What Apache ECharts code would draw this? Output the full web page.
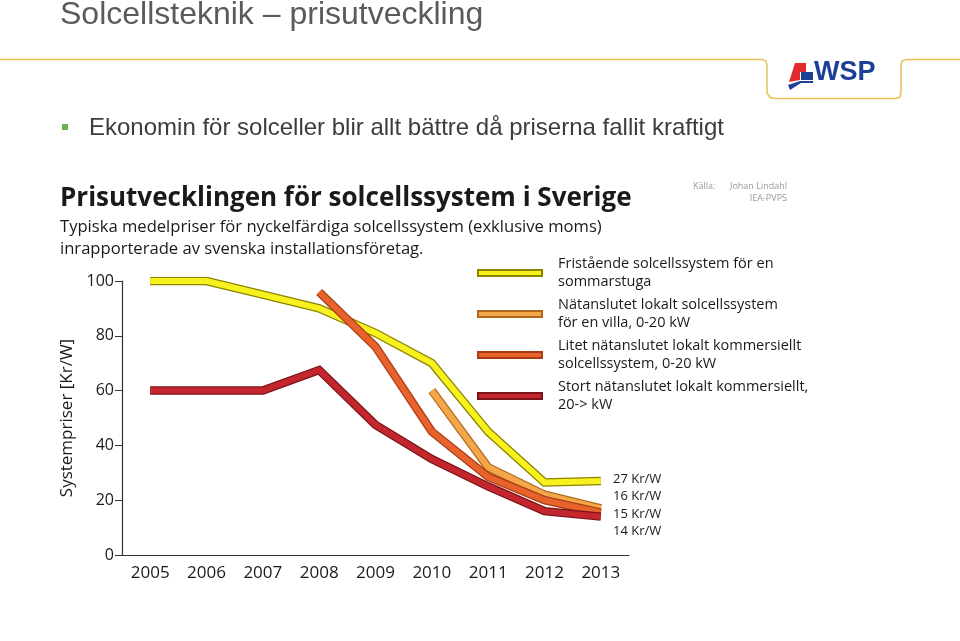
<!DOCTYPE html>
<html>
<head>
<meta charset="utf-8">
<script src="https://cdn.jsdelivr.net/npm/echarts@6/dist/echarts.min.js"></script>
<style>
html,body{margin:0;padding:0;background:#fff;}
#c{width:960px;height:641px;}
</style>
</head>
<body>
<div id="c"></div>
<script>
var years = ['2005','2006','2007','2008','2009','2010','2011','2012','2013'];
var yTicks = [0, 20, 40, 60, 80, 100];
var seriesNames = [
  'Fristående solcellssystem för en\nsommarstuga',
  'Nätanslutet lokalt solcellssystem\nför en villa, 0-20 kW',
  'Litet nätanslutet lokalt kommersiellt\nsolcellssystem, 0-20 kW',
  'Stort nätanslutet lokalt kommersiellt,\n20-> kW'
];
var sommarstuga = [100, 100, 95, 90, 81, 70, 45, 26.5, 27];
var villa       = [null, null, null, null, null, 60, 32, 22, 17];
var litet       = [null, null, null, 96, 76, 45, 28.5, 20, 15.5];
var stort       = [60, 60, 60, 67.5, 47.5, 35, 25, 16, 14];
var endLabels = ['27 Kr/W', '16 Kr/W', '15 Kr/W', '14 Kr/W'];

var fills    = ['#f7f21f', '#f4a748', '#e8622c', '#c4262e'];
var outlines = ['#8c8300', '#b06a20', '#a83c15', '#7a1418'];
var values   = [sommarstuga, villa, litet, stort];
var drawOrder = [0, 1, 2, 3];

var chart = echarts.init(document.getElementById('c'), null, {renderer: 'canvas'});
var font = "'Open Sans', 'Noto Sans', sans-serif";

var series = [];
drawOrder.forEach(function (i, k) {
  series.push({
    type: 'line', name: '_o' + i, data: values[i], showSymbol: false, silent: true,
    lineStyle: {color: outlines[i], width: 8.5, join: 'miter', cap: 'butt'},
    itemStyle: {color: outlines[i]}, z: 2 + k * 2, animation: false
  });
  series.push({
    type: 'line', name: seriesNames[i], data: values[i], showSymbol: false, silent: true,
    lineStyle: {color: fills[i], width: 6, join: 'miter', cap: 'butt'},
    itemStyle: {color: fills[i], borderColor: outlines[i], borderWidth: 1},
    z: 3 + k * 2, animation: false
  });
});

var graphics = [
  {type: 'text', left: 60, top: -1, style: {text: 'Solcellsteknik – prisutveckling', font: "32px 'Liberation Sans', Arial, sans-serif", fill: '#5a5a5a'}},
  {type: 'polyline', shape: {points: [[0, 59.5], [762, 59.5], [766, 61], [767, 65], [767, 93], [770, 97.5], [774, 98.5], [896, 98.5], [900, 97], [901, 93], [901, 65], [902, 61], [906, 59.5], [960, 59.5]]}, style: {stroke: '#e9c15a', lineWidth: 1.5, fill: null}},
  {type: 'polygon', shape: {points: [[795, 63], [806, 63], [806, 72], [800, 72], [800, 80], [789, 82]]}, style: {fill: '#e32a2a'}},
  {type: 'polygon', shape: {points: [[801, 72], [813, 72], [813, 80], [801, 80]]}, style: {fill: '#1d3f96'}},
  {type: 'polygon', shape: {points: [[788, 85], [800, 81], [813, 81], [813, 83], [801, 83], [790, 90]]}, style: {fill: '#1d3f96'}},
  {type: 'text', left: 814, top: 59, style: {text: 'WSP', font: "bold 27px 'Liberation Sans', Arial, sans-serif", fill: '#1d3f96'}},
  {type: 'rect', shape: {x: 62, y: 124, width: 6, height: 6}, style: {fill: '#6ab04c'}},
  {type: 'text', left: 89, top: 116, style: {text: 'Ekonomin för solceller blir allt bättre då priserna fallit kraftigt', font: "24px 'Liberation Sans', Arial, sans-serif", fill: '#3c3c3c'}},
  {type: 'text', left: 60, top: 186, style: {text: 'Prisutvecklingen för solcellssystem i Sverige', font: "bold 26px " + font, fill: '#1a1a1a'}},
  {type: 'text', left: 60, top: 216, style: {text: 'Typiska medelpriser för nyckelfärdiga solcellssystem (exklusive moms)\ninrapporterade av svenska installationsföretag.', font: "16.6px " + font, fill: '#1a1a1a', lineHeight: 22}},
  {type: 'text', left: 693, top: 182, style: {text: 'Källa:', font: "9px " + font, fill: '#9a9a9a'}},
  {type: 'text', right: 173, top: 182, style: {text: 'Johan Lindahl', font: "9px " + font, fill: '#9a9a9a'}},
  {type: 'text', right: 173, top: 194, style: {text: 'IEA-PVPS', font: "9px " + font, fill: '#9a9a9a'}}
];
var endY = [479, 496, 514, 531];
endLabels.forEach(function (t, i) {
  graphics.push({type: 'text', left: 613, top: endY[i] - 6, style: {text: t, font: "13px " + font, fill: '#1a1a1a'}});
});

chart.setOption({
  animation: false,
  backgroundColor: '#ffffff',
  grid: {left: 122, right: 331, top: 281, bottom: 86, containLabel: false},
  xAxis: {
    type: 'category', data: years, boundaryGap: true,
    axisLine: {lineStyle: {color: '#333', width: 1.2}},
    axisTick: {inside: true, length: 6, lineStyle: {color: '#333'}},
    axisLabel: {color: '#1a1a1a', fontSize: 17, fontFamily: font, margin: 10}
  },
  yAxis: {
    type: 'value', min: yTicks[0], max: yTicks[yTicks.length - 1], interval: 20,
    name: 'Systempriser [Kr/W]', nameLocation: 'middle', nameGap: 46, nameRotate: 90,
    nameTextStyle: {color: '#1a1a1a', fontSize: 17, fontFamily: font},
    axisLine: {show: true, lineStyle: {color: '#333', width: 1.2}},
    axisTick: {show: true, length: 7, lineStyle: {color: '#333'}},
    splitLine: {show: false},
    axisLabel: {color: '#1a1a1a', fontSize: 16, fontFamily: font, margin: 8}
  },
  legend: {
    data: seriesNames, orient: 'vertical', left: 477, top: 255, padding: 0,
    icon: 'rect', itemWidth: 64, itemHeight: 6, itemGap: 5,
    selectedMode: false,
    textStyle: {color: '#1a1a1a', fontSize: 14.5, fontFamily: font, lineHeight: 18, padding: [0, 0, 0, 11]}
  },
  series: series,
  graphic: graphics
});
</script>
</body>
</html>
